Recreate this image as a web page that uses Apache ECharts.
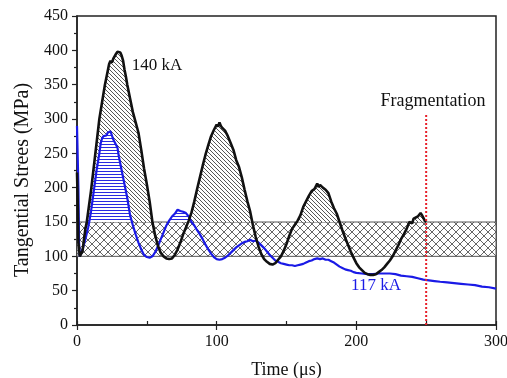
<!DOCTYPE html>
<html>
<head>
<meta charset="utf-8">
<script src="https://cdn.jsdelivr.net/npm/echarts@6/dist/echarts.min.js"></script>
<style>html,body{margin:0;padding:0;background:#fff}#c{width:507px;height:378px}</style>
</head>
<body>
<div id="c"></div>
<script>
// ---- data ----
const stress140kA = [
 [0,222],[0.5,180],[1,120],[2,100],[3,99],[4,108],[5,125],[6,140],[7,150],[8,165],[10,195],[12,230],[14,265],[16,300],
 [18,325],[20,350],[22,370],[23,380],[24,385],[25,382],[26,388],[27,390],[28,395],[29,398],[30,400],[31,397],[32,392],
 [33,385],[34,372],[35,362],[36,350],[38,330],[40,310],[42,295],[44,280],[46,255],[48,228],[50,205],[52,180],[54,150],
 [56,130],[58,115],[60,105],[62,100],[64,97],[66,96],[68,97],[70,102],[72,110],[74,120],[76,132],[78,142],[80,152],
 [82,164],[84,180],[86,198],[88,215],[90,232],[92,248],[94,262],[96,275],[98,284],[100,292],[101,289],[102,295],[103,290],
 [104,287],[106,283],[108,275],[110,265],[112,255],[114,240],[116,230],[118,215],[120,197],[122,180],[124,165],[126,145],
 [128,128],[130,114],[132,103],[134,96],[136,92],[138,89],[140,88],[142,90],[144,95],[146,100],[148,108],[150,118],
 [152,130],[154,140],[156,146],[158,152],[160,160],[162,172],[164,180],[166,188],[168,195],[170,198],[172,206],[173,201],
 [174,204],[176,200],[178,197],[180,192],[182,180],[184,170],[186,162],[188,150],[190,138],[192,127],[194,117],[196,107],
 [198,98],[200,90],[202,84],[204,80],[206,76],[208,74],[210,73],[212,73],[214,74],[216,77],[218,80],[220,84],[222,89],
 [224,94],[226,100],[228,108],[230,116],[232,125],[234,132],[236,140],[238,150],[240,148],[241,155],[242,153],[244,158],
 [246,163],[247,160],[248,158],[249,152],[250,150]
];
const stress117kA = [
 [0,290],[0.5,290],[1,200],[1.5,120],[2,100],[3,100],[4,110],[6,125],[8,142],[9,153],[10,165],[12,195],[14,225],[16,250],
 [17,265],[18,272],[19,275],[20,274],[21,276],[22,280],[23,278],[24,282],[25,276],[26,270],[27,268],[28,262],[29,258],
 [30,245],[32,225],[34,205],[36,185],[38,160],[40,145],[42,132],[44,120],[46,110],[48,102],[50,99],[52,98],[54,100],
 [56,106],[58,115],[60,125],[62,135],[64,145],[66,152],[68,158],[70,162],[72,168],[74,166],[76,165],[78,163],[80,158],
 [82,150],[84,145],[86,138],[88,132],[90,125],[92,117],[94,110],[96,104],[98,99],[100,96],[102,95],[104,96],[106,98],
 [108,101],[110,105],[112,109],[114,113],[116,116],[118,119],[120,121],[122,122],[124,124],[126,122],[128,123],[130,120],
 [132,116],[134,112],[136,107],[138,102],[140,98],[142,94],[144,92],[146,90],[148,89],[150,88],[152,87],[154,87],[156,86],
 [158,87],[160,88],[162,89],[164,91],[166,93],[168,94],[170,96],[172,97],[174,96],[176,97],[178,95],[180,95],[182,93],
 [184,91],[186,88],[188,85],[190,83],[192,81],[194,80],[196,79],[198,77],[200,76],[204,75],[208,74],[212,74],[216,75],
 [220,75],[224,75],[228,74],[232,72],[236,71],[240,70],[244,68],[248,66],[252,65],[256,64],[260,63],[265,62],[270,61],
 [275,60],[280,59],[285,58],[290,56],[295,55],[300,53]
];
const bandLow = 100;
const bandHigh = 150;
const fragmentationTime = 250;
const fragmentationTop = 308;
const xTickValues = [0, 100, 200, 300];
const yTickValues = [0, 50, 100, 150, 200, 250, 300, 350, 400, 450];

// ---- hatch patterns ----
function pattern(size, draw) {
  const c = document.createElement('canvas');
  c.width = size; c.height = size;
  const g = c.getContext('2d');
  g.fillStyle = '#fff'; g.fillRect(0, 0, size, size);
  draw(g, size);
  return { image: c, repeat: 'repeat' };
}
const diagHatch = pattern(4, (g, s) => {
  g.strokeStyle = '#444'; g.lineWidth = 0.9;
  for (const x0 of [-s, 0, s]) { g.beginPath(); g.moveTo(x0, 0); g.lineTo(x0 + s, s); g.stroke(); }
});
const crossHatch = pattern(8, (g, s) => {
  g.strokeStyle = '#555'; g.lineWidth = 0.9;
  for (const x0 of [-s, 0, s]) {
    g.beginPath(); g.moveTo(x0, 0); g.lineTo(x0 + s, s); g.stroke();
    g.beginPath(); g.moveTo(x0 + s, 0); g.lineTo(x0, s); g.stroke();
  }
});
const horizHatch = pattern(3, (g, s) => {
  g.strokeStyle = '#2a2ae0'; g.lineWidth = 1;
  g.beginPath(); g.moveTo(0, 0.5); g.lineTo(s, 0.5); g.stroke();
});

const fill140 = stress140kA.map(p => [p[0], Math.max(p[1], bandHigh)]);
const fill117 = stress117kA.map(p => [p[0], Math.max(p[1], bandHigh)]);

const font = 'Liberation Serif';
const chart = echarts.init(document.getElementById('c'), null, { renderer: 'canvas' });
chart.setOption({
  animation: false,
  grid: { left: 77, right: 11, top: 16, bottom: 53, containLabel: false, outerBoundsMode: 'none',
    show: true, borderColor: '#222', borderWidth: 1.5, backgroundColor: 'transparent' },
  xAxis: [{
    type: 'value', min: xTickValues[0], max: xTickValues[xTickValues.length - 1], interval: 100,
    axisLine: { show: true, onZero: false, lineStyle: { color: '#222', width: 1.5 } },
    axisTick: { show: true, length: 5, lineStyle: { color: '#222', width: 1.2 } },
    minorTick: { show: false },
    splitLine: { show: false },
    axisLabel: { margin: 9, fontFamily: font, fontSize: 16, color: '#111' },
    name: 'Time (μs)', nameLocation: 'middle', nameGap: 36,
    nameTextStyle: { fontFamily: font, fontSize: 18, color: '#111' }
  }, {
    type: 'value', min: 0, max: 300, interval: 50, position: 'bottom',
    axisLine: { show: false }, axisLabel: { show: false }, splitLine: { show: false },
    axisTick: { show: true, inside: true, length: 4, lineStyle: { color: '#222', width: 1.2 } }
  }],
  yAxis: {
    type: 'value', min: yTickValues[0], max: yTickValues[yTickValues.length - 1], interval: 50,
    axisLine: { show: true, onZero: false, lineStyle: { color: '#222', width: 1.5 } },
    axisTick: { show: true, length: 5, lineStyle: { color: '#222', width: 1.2 } },
    minorTick: { show: true, splitNumber: 2, length: 3, lineStyle: { color: '#222', width: 1.2 } },
    splitLine: { show: false },
    axisLabel: { margin: 9, fontFamily: font, fontSize: 16, color: '#111' }
  },
  graphic: [
    { type: 'text', x: 23, y: 180, rotation: Math.PI / 2,
      style: { text: 'Tangential Strees (MPa)', font: '20px "Liberation Serif"', fill: '#111', align: 'center', verticalAlign: 'middle' } },
    { type: 'text', x: 157, y: 66,
      style: { text: '140 kA', font: '17px "Liberation Serif"', fill: '#111', align: 'center', verticalAlign: 'middle' } },
    { type: 'text', x: 376, y: 286,
      style: { text: '117 kA', font: '17px "Liberation Serif"', fill: '#1a1ae6', align: 'center', verticalAlign: 'middle' } },
    { type: 'text', x: 433, y: 101,
      style: { text: 'Fragmentation', font: '18px "Liberation Serif"', fill: '#111', align: 'center', verticalAlign: 'middle' } }
  ],
  series: [
    { type: 'line', data: [], silent: true,
      markArea: { silent: true,
        itemStyle: { color: crossHatch, borderColor: '#555', borderWidth: 1 },
        data: [[{ coord: [0, bandLow] }, { coord: [300, bandHigh] }]] } },
    { type: 'line', data: fill140, symbol: 'none', silent: true,
      lineStyle: { width: 0, opacity: 0 }, areaStyle: { color: diagHatch, origin: bandHigh, opacity: 1 } },
    { type: 'line', data: fill117, symbol: 'none', silent: true,
      lineStyle: { width: 0, opacity: 0 }, areaStyle: { color: horizHatch, origin: bandHigh, opacity: 1 } },
    { type: 'line', name: '117 kA', data: stress117kA, symbol: 'none',
      lineStyle: { color: '#1a1ae6', width: 2.2 } },
    { type: 'line', name: '140 kA', data: stress140kA, symbol: 'none',
      lineStyle: { color: '#111', width: 2.6 } },
    { type: 'line', data: [[fragmentationTime, 0], [fragmentationTime, fragmentationTop]], symbol: 'none',
      lineStyle: { color: '#e8202a', width: 2, type: [2, 2] } }
  ]
});
</script>
</body>
</html>
